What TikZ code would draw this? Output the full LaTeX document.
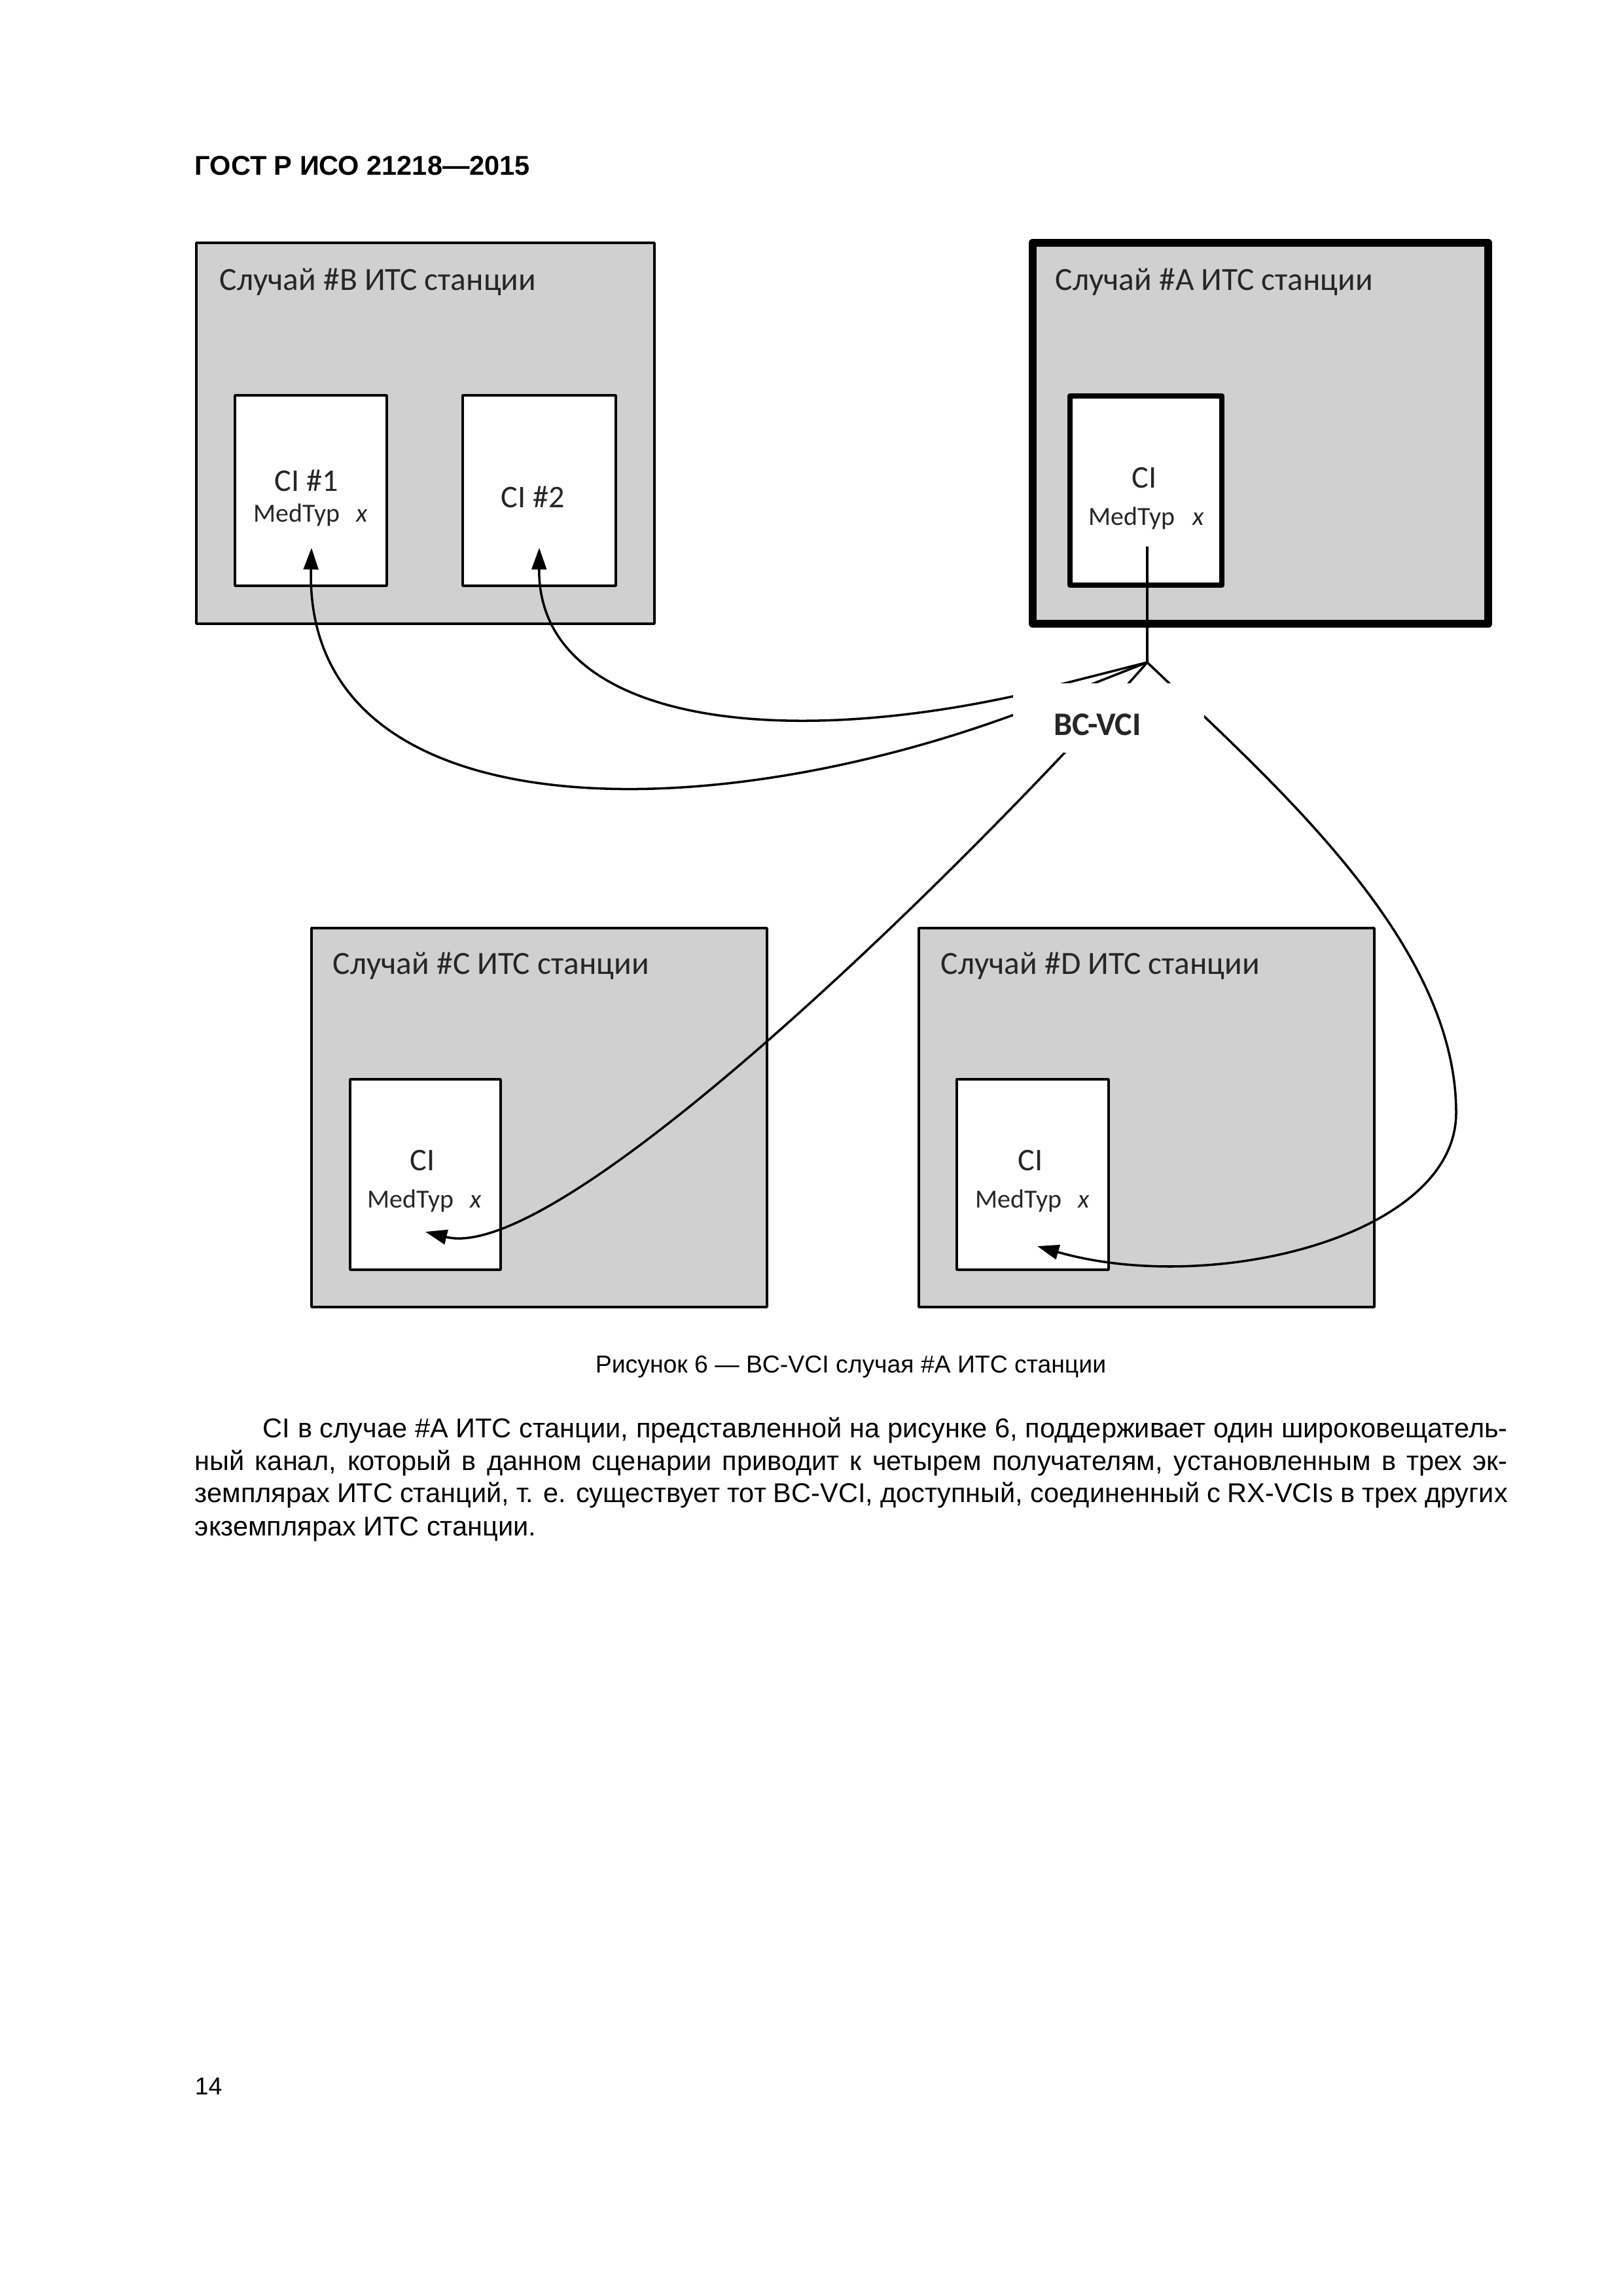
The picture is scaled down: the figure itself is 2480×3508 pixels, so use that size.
\documentclass[tikz,border=0pt]{standalone}
\usepackage{fontspec}
\setmainfont{Liberation Sans}
\newfontfamily\carl{Carlito}
\usetikzlibrary{arrows.meta}
\newdimen\pxu \pxu=0.084667mm
\definecolor{boxgray}{RGB}{208,208,208}
\definecolor{dtext}{RGB}{38,38,38}
\tikzset{
  stbox/.style={draw=black, fill=boxgray, line width=0.9pt, anchor=north west, inner sep=0pt, outer sep=0pt, line join=round},
  thickbox/.style={stbox, line width=2.9pt},
  cibox/.style={draw=black, fill=white, line width=0.9pt, anchor=north west, inner sep=0pt, outer sep=0pt, line join=round},
  cithick/.style={cibox, line width=2.15pt},
  title/.style={anchor=base west, inner sep=0pt, font=\carl\fontsize{11.9}{14}\selectfont, text=dtext},
  cilab/.style={anchor=base west, inner sep=0pt, font=\carl\fontsize{11.6}{14}\selectfont, text=dtext},
  medlab/.style={anchor=base west, inner sep=0pt, font=\carl\fontsize{9.6}{11}\selectfont, text=dtext},
  xlab/.style={medlab, font=\carl\itshape\fontsize{9.6}{11}\selectfont},
  link/.style={line width=0.85pt, -{Triangle[length=2.8mm, width=1.9mm]}},
  plainlink/.style={line width=0.85pt},
  bodyl/.style={anchor=base west, inner sep=0pt, font=\fontsize{10}{12}\selectfont},
}
\begin{document}
\begin{tikzpicture}[x=0.084667mm, y=-0.084667mm]
\useasboundingbox (0,0) rectangle (2480,3508);
\fill[white] (0,0) rectangle (2480,3508);

% header
\node[anchor=base west, inner sep=0pt, font=\bfseries\fontsize{10}{12}\selectfont] (hdr) at (297,267) {ГОСТ Р ИСО 21218—2015};

% station boxes
\node[stbox, minimum width=700\pxu, minimum height=582\pxu] (boxB) at (300,371) {};
\node[thickbox, minimum width=696\pxu, minimum height=582\pxu] (boxA) at (1578,371) {};
\node[stbox, minimum width=696\pxu, minimum height=579\pxu] (boxC) at (476,1418) {};
\node[stbox, minimum width=696\pxu, minimum height=579\pxu] (boxD) at (1404,1418) {};

% CI boxes
\node[cibox, minimum width=232\pxu, minimum height=291\pxu] (ciB1) at (359,604) {};
\node[cibox, minimum width=234\pxu, minimum height=291\pxu] (ciB2) at (707,604) {};
\node[cithick, minimum width=232\pxu, minimum height=289\pxu] (ciA) at (1635,605) {};
\node[cibox, minimum width=230\pxu, minimum height=291\pxu] (ciC) at (535,1649) {};
\node[cibox, minimum width=232\pxu, minimum height=291\pxu] (ciD) at (1462,1649) {};

% titles
\node[title] (tB) at (335,443) {Случай \#B ИТС станции};
\node[title] (tA) at (1612,443) {Случай \#A ИТС станции};
\node[title] (tC) at (508,1488) {Случай \#C ИТС станции};
\node[title] (tD) at (1437,1488) {Случай \#D ИТС станции};

% CI labels
\node[cilab] (lB1) at (419,750) {CI \#1};
\node[medlab] (mB1) at (387,797) {MedTyp};
\node[xlab] (xB1) at (544,797) {x};
\node[cilab] (lB2) at (765,775) {CI \#2};
\node[cilab] (lA) at (1729,745) {CI};
\node[medlab] (mA) at (1663,802) {MedTyp};
\node[xlab] (xA) at (1822,802) {x};
\node[cilab] (lC) at (626,1788) {CI};
\node[medlab] (mC) at (561,1845) {MedTyp};
\node[xlab] (xC) at (718,1845) {x};
\node[cilab] (lD) at (1555,1788) {CI};
\node[medlab] (mD) at (1490,1845) {MedTyp};
\node[xlab] (xD) at (1647,1845) {x};

% connector points
\coordinate (aout) at (1753,835);
\coordinate (j) at (1753,1012);
\coordinate (t1) at (476,837);
\coordinate (t2) at (824,837);
\coordinate (tC) at (650,1882);
\coordinate (tD) at (1585,1904);

\draw[plainlink] (aout) -- (j);
\draw[link] (j) -- (1552,1091) .. controls (1052,1275) and (465,1262) .. (t1);
\draw[link] (j) -- (1552,1063) .. controls (1152,1150) and (822,1090) .. (t2);
\draw[link] (j) .. controls (1500,1300) and (860,1935) .. (tC);
\draw[link] (j) .. controls (1950,1200) and (2225,1440) .. (2225,1700)
               .. controls (2225,1890) and (1850,1980) .. (tD);

% label
\node[fill=white, inner sep=0pt, outer sep=0pt, anchor=north west, minimum width=292\pxu, minimum height=106\pxu] (lab) at (1548,1044) {};
\node[anchor=base, inner sep=0pt, font=\carl\bfseries\fontsize{12.1}{14}\selectfont, text=dtext] (bcvci) at (1677,1123) {BC-VCI};

% caption
\node[anchor=base, inner sep=0pt, font=\fontsize{9}{11}\selectfont] (cap) at (1300,2097) {Рисунок 6 — BC-VCI случая \#A ИТС станции};

% body text
\node[bodyl] (b1) at (401,2196) {\makebox[1902\pxu][s]{CI в случае \#A ИТС станции, представленной на рисунке 6, поддерживает один широковещатель-}};
\node[bodyl] (b2) at (297,2246) {\makebox[2006\pxu][s]{ный канал, который в данном сценарии приводит к четырем получателям, установленным в трех эк-}};
\node[bodyl] (b3) at (297,2295) {\makebox[2006\pxu][s]{земплярах ИТС станций, т. е. существует тот BC-VCI, доступный, соединенный с RX-VCIs в трех других}};
\node[bodyl] (b4) at (297,2346) {экземплярах ИТС станции.};

% page number
\node[anchor=base west, inner sep=0pt, font=\fontsize{9}{11}\selectfont] (pg) at (297,3200) {14};
\end{tikzpicture}
\end{document}
